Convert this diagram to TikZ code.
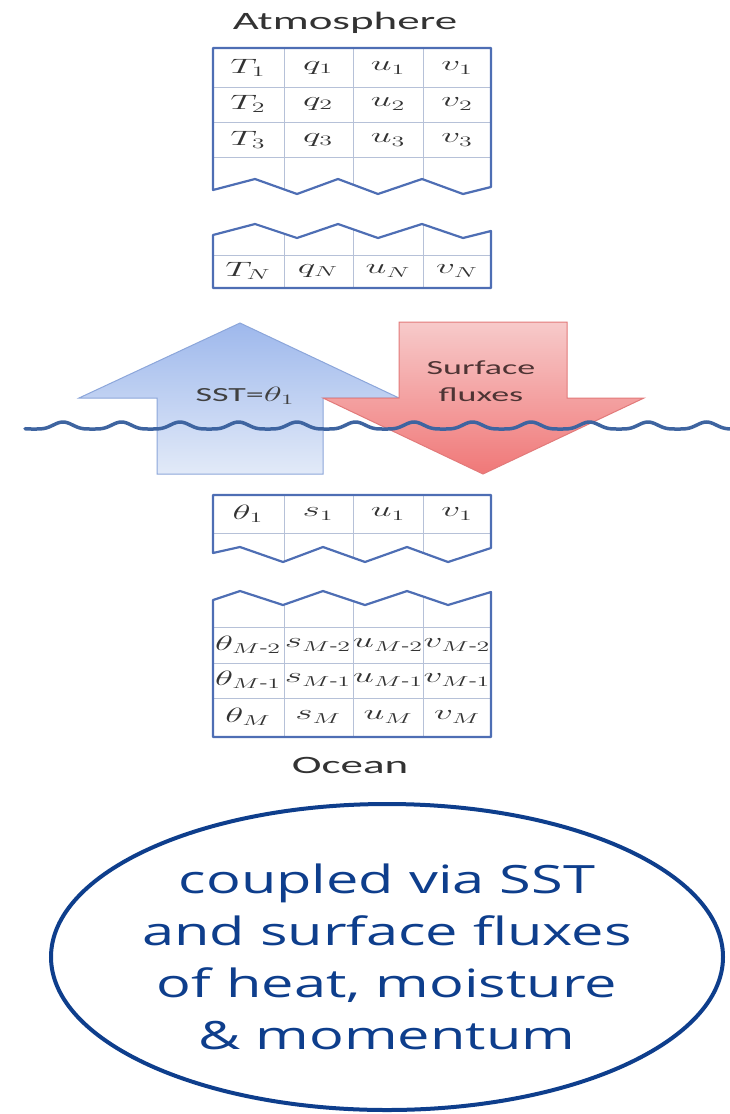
\documentclass[tikz,border=0pt]{standalone}
\usepackage{fontspec}
\usepackage{amsmath}
\usetikzlibrary{shapes,arrows.meta,positioning,calc}
\setmainfont{Carlito}
\newfontfamily\labelfont[FakeStretch=1.8]{Carlito}
\newfontfamily\notefont[FakeStretch=1.48]{Open Sans}
\definecolor{tableedge}{RGB}{78,110,180}
\definecolor{tablerule}{RGB}{182,193,216}
\definecolor{wavecol}{RGB}{62,100,160}
\definecolor{noteblue}{RGB}{14,62,140}
\definecolor{uptop}{RGB}{158,184,236}
\definecolor{upbottom}{RGB}{226,234,248}
\definecolor{upedge}{RGB}{140,166,218}
\definecolor{downtop}{RGB}{247,202,202}
\definecolor{downbottom}{RGB}{240,120,120}
\definecolor{downedge}{RGB}{226,122,122}
\definecolor{fluxtext}{RGB}{78,52,52}
\newcommand{\xwide}[1]{\scalebox{1.8}[1]{#1}}
\tikzset{
  cell/.style={text=black!80, font=\fontsize{21}{24}\selectfont, inner sep=0pt},
  tablebox/.style={draw=tableedge, line width=2.2pt, line join=round},
  tablegrid/.style={draw=tablerule, line width=1pt},
  heading/.style={text=black!80, font=\labelfont\fontsize{25}{30}\selectfont, anchor=base},
  wavy/.style={draw=wavecol, line width=3.5pt, line cap=round},
}

\begin{document}
\begin{tikzpicture}[x=1pt, y=-1pt]
    \useasboundingbox (0,0) rectangle (730,1114);

    \shadedraw[top color=uptop, bottom color=upbottom, draw=upedge, line width=1pt]
        (240,323) -- (399,398) -- (323,398) -- (323,474) -- (157,474) -- (157,398) -- (79,398) -- cycle;
    \shadedraw[top color=downtop, bottom color=downbottom, draw=downedge, line width=1pt]
        (399,322) -- (567,322) -- (567,398) -- (644,398) -- (483,474) -- (323,398) -- (399,398) -- cycle;
    \node[text=black!75, font=\labelfont\fontsize{20}{24}\selectfont] (sst) at (245,396) {SST=\xwide{$\theta_1$}};
    \node[text=fluxtext, font=\labelfont\fontsize{20}{27}\selectfont, align=center] (flux) at (481,381) {Surface\\fluxes};
    \draw[wavy] plot[domain=25:730, samples=300, smooth]
        (\x, {429 - 7*(0.5+0.5*cos(6.1538*(\x-63)))*(0.5+0.5*cos(6.1538*(\x-63)))});

    \node[heading] (atm) at (345,29) {Atmosphere};
    \begin{scope}
        \clip (213,48) -- (491,48) -- (491,187) -- (463,194) -- (422,179) -- (378,194) -- (338,179) -- (297,194) -- (255,179) -- (213,190) -- cycle;
        \foreach \cx in {284,353,423} \draw[tablegrid] (\cx,40) -- (\cx,200);
        \foreach \ry in {87,122,157} \draw[tablegrid] (205,\ry) -- (500,\ry);
    \end{scope}
    \draw[tablebox] (213,48) -- (491,48) -- (491,187) -- (463,194) -- (422,179) -- (378,194) -- (338,179) -- (297,194) -- (255,179) -- (213,190) -- cycle;
    \foreach \r/\ry in {1/68,2/104,3/140}{
        \foreach \v/\cx in {T/248,q/318,u/388,v/457}
            \node[cell] (atm-\v\r) at (\cx,\ry) {\xwide{$\v_\r$}};
    }

    \begin{scope}
        \clip (213,235) -- (255,224) -- (297,238) -- (338,224) -- (378,238) -- (422,224) -- (463,238) -- (491,231) -- (491,288) -- (213,288) -- cycle;
        \foreach \cx in {284,353,423} \draw[tablegrid] (\cx,215) -- (\cx,295);
        \draw[tablegrid] (205,255) -- (500,255);
    \end{scope}
    \draw[tablebox] (213,235) -- (255,224) -- (297,238) -- (338,224) -- (378,238) -- (422,224) -- (463,238) -- (491,231) -- (491,288) -- (213,288) -- cycle;
    \foreach \v/\cx in {T/248,q/318,u/388,v/457}
        \node[cell] (atm-\v N) at (\cx,271) {\xwide{$\v_N$}};

    \begin{scope}
        \clip (213,495) -- (491,495) -- (491,548) -- (448,562) -- (407,547) -- (365,562) -- (323,547) -- (283,562) -- (240,547) -- (213,553) -- cycle;
        \foreach \cx in {284,353,423} \draw[tablegrid] (\cx,488) -- (\cx,570);
        \draw[tablegrid] (205,533) -- (500,533);
    \end{scope}
    \draw[tablebox] (213,495) -- (491,495) -- (491,548) -- (448,562) -- (407,547) -- (365,562) -- (323,547) -- (283,562) -- (240,547) -- (213,553) -- cycle;

    \begin{scope}
        \clip (213,600) -- (240,591) -- (283,605) -- (323,591) -- (365,605) -- (407,591) -- (448,605) -- (491,592) -- (491,737) -- (213,737) -- cycle;
        \foreach \cx in {284,353,423} \draw[tablegrid] (\cx,585) -- (\cx,745);
        \foreach \ry in {627,663,698} \draw[tablegrid] (205,\ry) -- (500,\ry);
    \end{scope}
    \draw[tablebox] (213,600) -- (240,591) -- (283,605) -- (323,591) -- (365,605) -- (407,591) -- (448,605) -- (491,592) -- (491,737) -- (213,737) -- cycle;
    \foreach \k/\v/\cx in {a/\theta/248,b/s/318,c/u/388,d/v/457}{
        \node[cell] (oce-\k1) at (\cx,514) {\xwide{$\v_1$}};
        \foreach \j/\sub/\ry in {x/M\text{-}2/645,y/M\text{-}1/680,z/M/717}
            \node[cell] (oce-\k\j) at (\cx,\ry) {\xwide{$\v_{\sub}$}};
    }
    \node[heading] (oce) at (350,773) {Ocean};

    \node[text=noteblue, font=\notefont\fontsize{39}{52}\selectfont, align=center] (note) at (387,957)
        {coupled via SST\\and surface fluxes\\of heat, moisture\\\& momentum};
    \draw[noteblue, line width=4pt] (note.center) ellipse [x radius=336, y radius=153];
\end{tikzpicture}
\end{document}
